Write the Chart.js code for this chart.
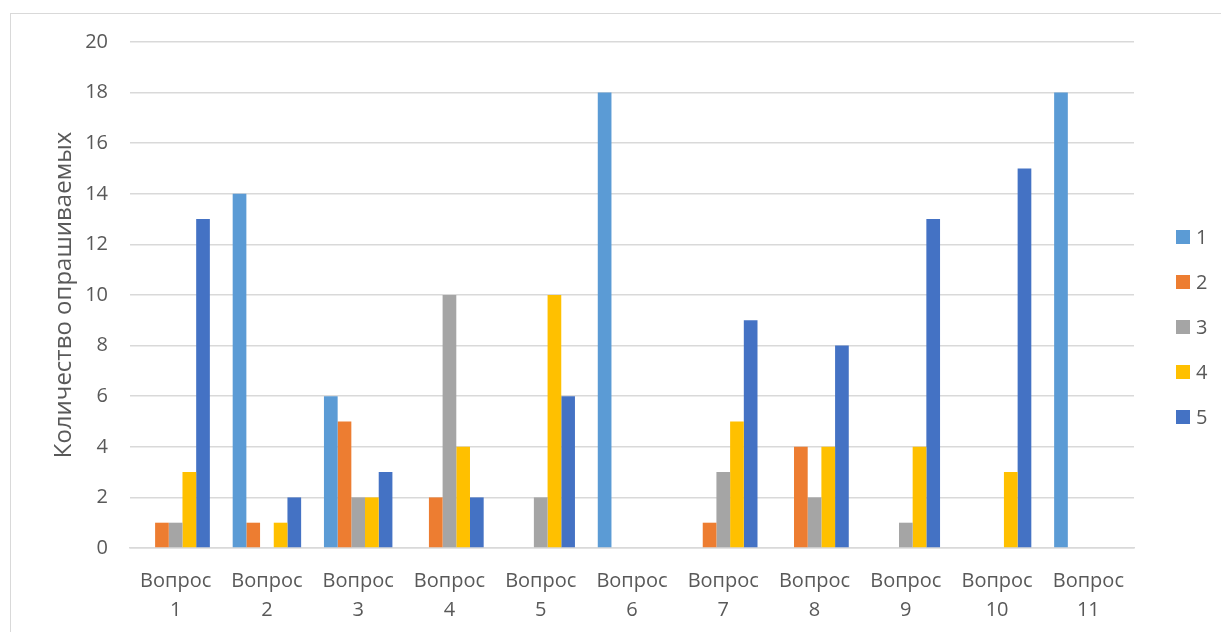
<!DOCTYPE html>
<html><head><meta charset="utf-8">
<script src="https://cdn.jsdelivr.net/npm/chart.js@4.4.0/dist/chart.umd.min.js"></script>
<style>
html,body{margin:0;padding:0;background:#fff;overflow:hidden;}
#wrap{position:absolute;left:0;top:0;width:1221px;height:632px;}
#frame{position:absolute;left:10px;top:13px;width:1300px;height:700px;border:1.5px solid #d9d9d9;box-sizing:border-box;}
canvas{position:absolute;left:0;top:0;}
</style></head>
<body>
<div id="wrap"><div id="frame"></div><canvas id="c" width="1221" height="632"></canvas></div>
<script>
const categories = [["Вопрос","1"],["Вопрос","2"],["Вопрос","3"],["Вопрос","4"],["Вопрос","5"],["Вопрос","6"],["Вопрос","7"],["Вопрос","8"],["Вопрос","9"],["Вопрос","10"],["Вопрос","11"]];
const series1 = [null,14,6,null,null,18,null,null,null,null,18];
const series2 = [1,1,5,2,null,null,1,4,null,null,null];
const series3 = [1,null,2,10,2,null,3,2,1,null,null];
const series4 = [3,1,2,4,10,null,5,4,4,3,null];
const series5 = [13,2,3,2,6,null,9,8,13,15,null];
const seriesNames = ["1","2","3","4","5"];
const colors = ["#5B9BD5","#ED7D31","#A5A5A5","#FFC000","#4472C4"];
const yTitle = "Количество опрашиваемых";

const all = [series1,series2,series3,series4,series5];
const font = "'Open Sans', 'Liberation Sans', sans-serif";

const sideLegend = {
  id: 'sideLegend',
  afterDraw(chart) {
    const ctx = chart.ctx;
    ctx.save();
    ctx.font = "20px " + font;
    ctx.textBaseline = 'middle';
    ctx.textAlign = 'left';
    chart.data.datasets.forEach((ds, i) => {
      const cy = 237 + i * 45;
      ctx.fillStyle = ds.backgroundColor;
      ctx.fillRect(1176, cy - 7, 14, 14);
      ctx.fillStyle = '#595959';
      ctx.fillText(ds.label, 1196, cy + 1);
    });
    ctx.restore();
  }
};

new Chart(document.getElementById('c'), {
  type: 'bar',
  data: {
    labels: categories,
    datasets: all.map((d,i)=>({label: seriesNames[i], data: d, backgroundColor: colors[i], borderWidth: 0, categoryPercentage: 0.75, barPercentage: 1.0}))
  },
  plugins: [sideLegend],
  options: {
    responsive: false,
    animation: false,
    layout: {padding: {left: 50, top: 42, right: 87, bottom: 8}},
    plugins: {
      tooltip: {enabled: false},
      legend: {display: false}
    },
    scales: {
      x: {
        afterFit(scale) { scale.height = 76; },
        grid: {display: false, drawTicks: false},
        border: {color: '#d9d9d9', width: 1.5},
        ticks: {font: {family: font, size: 20, lineHeight: 1.45}, color: '#595959', padding: 19, maxRotation: 0, autoSkip: false}
      },
      y: {
        afterFit(scale) { scale.width = 80; },
        min: 0, max: 20,
        ticks: {stepSize: 2, font: {family: font, size: 20}, color: '#595959', padding: 22},
        grid: {color: '#d9d9d9', lineWidth: 1.5, drawTicks: false},
        border: {display: false},
        title: {display: true, text: yTitle, font: {family: font, size: 24}, color: '#595959', padding: {top: 0, bottom: 6}}
      }
    }
  }
});
</script>
</body></html>
